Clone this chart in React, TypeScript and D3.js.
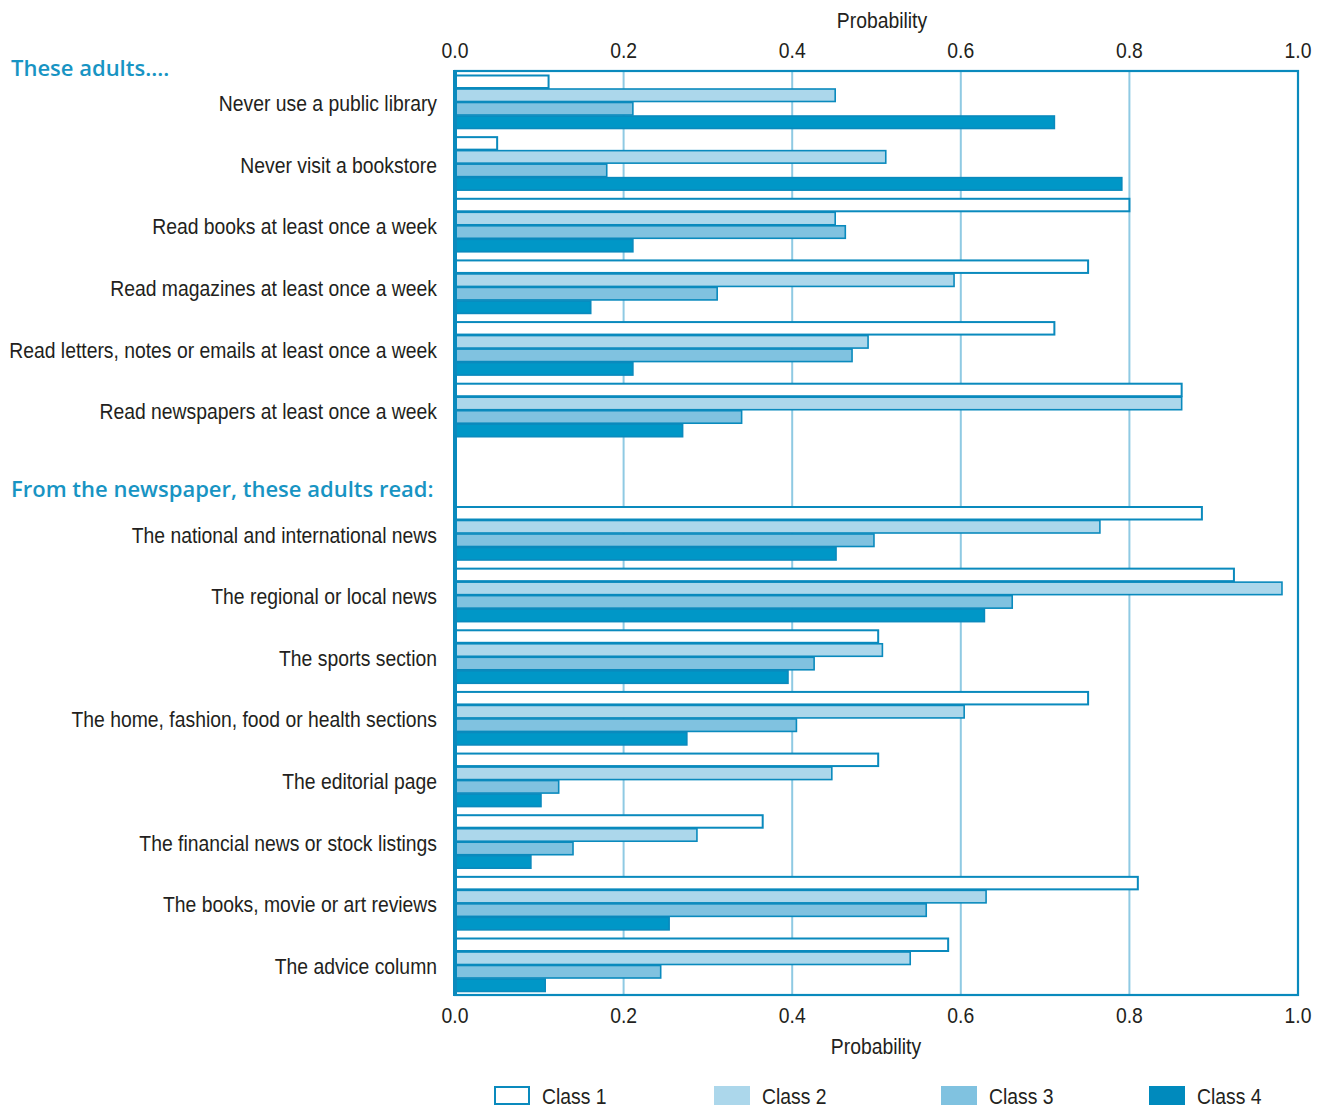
import React from "react";
import * as d3 from "d3";

const categories = [
  "Never use a public library",
  "Never visit a bookstore",
  "Read books at least once a week",
  "Read magazines at least once a week",
  "Read letters, notes or emails at least once a week",
  "Read newspapers at least once a week",
  "The national and international news",
  "The regional or local news",
  "The sports section",
  "The home, fashion, food or health sections",
  "The editorial page",
  "The financial news or stock listings",
  "The books, movie or art reviews",
  "The advice column",
];
const sections = ["These adults....", "From the newspaper, these adults read:"];
const sectionOf = [0, 0, 0, 0, 0, 0, 1, 1, 1, 1, 1, 1, 1, 1];
const classNames = ["Class 1", "Class 2", "Class 3", "Class 4"];
const class1 = [0.111, 0.05, 0.8, 0.751, 0.711, 0.862, 0.886, 0.924, 0.502, 0.751, 0.502, 0.365, 0.81, 0.585];
const class2 = [0.451, 0.511, 0.451, 0.592, 0.49, 0.862, 0.765, 0.981, 0.507, 0.604, 0.447, 0.287, 0.63, 0.54];
const class3 = [0.211, 0.18, 0.463, 0.311, 0.471, 0.34, 0.497, 0.661, 0.426, 0.405, 0.123, 0.14, 0.559, 0.244];
const class4 = [0.711, 0.791, 0.211, 0.161, 0.211, 0.27, 0.452, 0.628, 0.395, 0.275, 0.102, 0.09, 0.254, 0.107];
const xTicks = [0, 0.2, 0.4, 0.6, 0.8, 1.0];

const fills = ["#ffffff", "#acd7eb", "#80c2e0", "#0097c7"];
const legendFills = ["#ffffff", "#acd7eb", "#80c2e0", "#008abd"];
const stroke = "#0a8abd";
const gridColor = "#8fcae3";
const labelFont = "'Liberation Sans', Arial, sans-serif";
const headFont = "'Open Sans', 'Lato', sans-serif";
const FS = 21.5;
const SX = 0.9;

function NText(props: { x: number; y: number; anchor?: string; children: React.ReactNode }) {
  return (
    <text
      transform={`translate(${props.x},${props.y}) scale(${SX},1)`}
      textAnchor={props.anchor || "start"}
      fontFamily={labelFont}
      fontSize={FS}
      fill="#231f20"
    >
      {props.children}
    </text>
  );
}

export default function App() {
  const W = 1325;
  const H = 1108;
  const x = d3.scaleLinear().domain([0, 1]).range([455, 1298]);
  // slots: 6 groups, 1 blank slot for the second heading, 8 groups
  const slotIndex = categories.map((_, i) => (sectionOf[i] === 0 ? i : i + 1));
  const slots = d3.range(15);
  const y = d3.scaleBand<number>().domain(slots).range([75, 992]).paddingInner(0.124).paddingOuter(0);
  const inner = d3.scaleBand<number>().domain([0, 1, 2, 3]).range([0, y.bandwidth()]).padding(0);
  const series = [class1, class2, class3, class4];
  const plotTop = 71;
  const plotBottom = 995;

  return (
    <svg width={W} height={H} style={{ position: "absolute", left: 0, top: 0, background: "#fff" }}>
      {xTicks.slice(1, -1).map((t) => (
        <line key={"g" + t} x1={x(t)} x2={x(t)} y1={plotTop} y2={plotBottom} stroke={gridColor} strokeWidth={2} />
      ))}
      {categories.map((c, i) => {
        const y0 = y(slotIndex[i]) as number;
        return (
          <g key={c}>
            {series.map((s, k) => (
              <rect
                key={k}
                x={x(0)}
                y={y0 + (inner(k) as number) + 0.5}
                width={x(s[i]) - x(0)}
                height={inner.bandwidth() - 1}
                fill={fills[k]}
                stroke={stroke}
                strokeWidth={k === 0 ? 2 : 1.6}
              />
            ))}
          </g>
        );
      })}
      <rect x={x(0)} y={plotTop} width={x(1) - x(0)} height={plotBottom - plotTop} fill="none" stroke={stroke} strokeWidth={2.2} />
      <line x1={x(0)} x2={x(0)} y1={plotTop - 1} y2={plotBottom + 1} stroke={stroke} strokeWidth={4} />
      {categories.map((c, i) => {
        const cy = (y(slotIndex[i]) as number) + y.bandwidth() / 2;
        return (
          <NText key={"l" + c} x={437} y={cy + 9} anchor="end">
            {c}
          </NText>
        );
      })}
      <text x={11} y={(y(0) as number) + 1} fontFamily={headFont} fontWeight={600} fontSize={22} fill="#1894c3">
        {sections[0]}
      </text>
      <text x={11} y={(y(6) as number) + 52} fontFamily={headFont} fontWeight={600} fontSize={22} fill="#1894c3">
        {sections[1]}
      </text>
      {xTicks.map((t) => (
        <NText key={"tt" + t} x={x(t)} y={58} anchor="middle">
          {t.toFixed(1)}
        </NText>
      ))}
      <NText x={882} y={28} anchor="middle">
        Probability
      </NText>
      {xTicks.map((t) => (
        <NText key={"bt" + t} x={x(t)} y={1023} anchor="middle">
          {t.toFixed(1)}
        </NText>
      ))}
      <NText x={876} y={1054} anchor="middle">
        Probability
      </NText>
      {classNames.map((n, k) => {
        const lx = [494, 714, 941, 1149][k];
        return (
          <g key={n}>
            <rect
              x={lx + (k === 0 ? 1 : 0)}
              y={1086 + (k === 0 ? 1 : 0)}
              width={36 - (k === 0 ? 2 : 0)}
              height={19 - (k === 0 ? 2 : 0)}
              fill={legendFills[k]}
              stroke={k === 0 ? stroke : "none"}
              strokeWidth={2}
            />
            <NText x={lx + 48} y={1104}>
              {n}
            </NText>
          </g>
        );
      })}
    </svg>
  );
}
